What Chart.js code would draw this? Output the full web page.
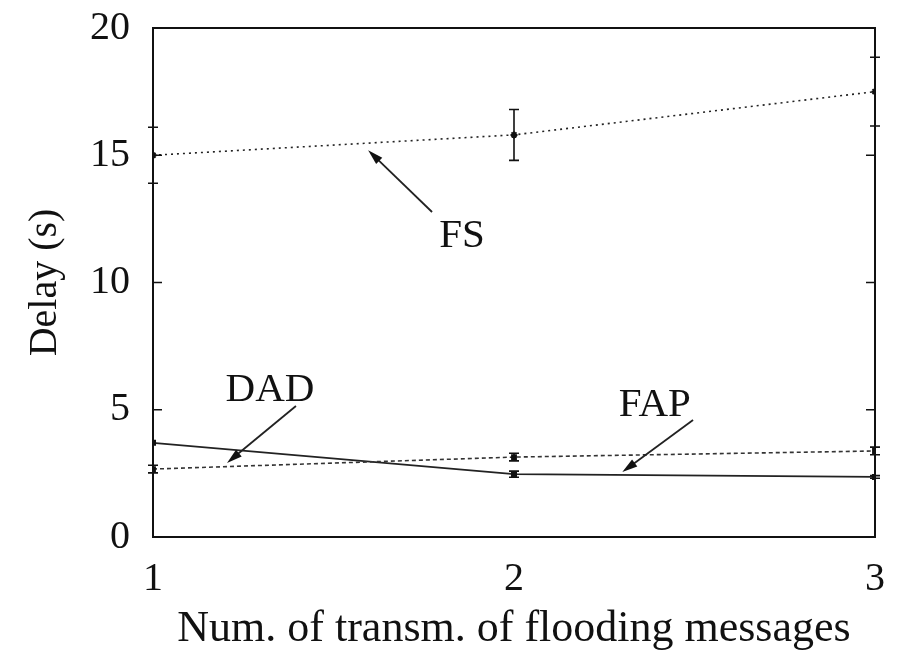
<!DOCTYPE html>
<html>
<head>
<meta charset="utf-8">
<script src="https://cdn.jsdelivr.net/npm/chart.js@4.4.1/dist/chart.umd.min.js"></script>
<style>
  html, body { margin: 0; padding: 0; background: #fff; }
  #wrap { width: 898px; height: 658px; }
</style>
</head>
<body>
<div id="wrap"><canvas id="c" width="898" height="658"></canvas></div>
<script>
// ---- data ----
const xValues = [1, 2, 3];
const fsDelay = [15.0, 15.8, 17.5];
const fsErr = [1.1, 1.0, 1.35];
const dadDelay = [2.67, 3.14, 3.38];
const dadErr = [0.15, 0.15, 0.15];
const fapDelay = [3.7, 2.47, 2.36];
const fapErr = [0.0, 0.12, 0.05];
const yTicks = [0, 5, 10, 15, 20];
const xTicks = [1, 2, 3];
const xTitle = 'Num. of transm. of flooding messages';
const yTitle = 'Delay (s)';
// annotation labels (data coordinates): label, label pos, arrow start, arrow tip
const noteLabels = ['FS', 'DAD', 'FAP'];
const noteLabelPos = [[1.856, 11.83], [1.324, 5.78], [2.39, 5.19]];
const noteArrowFrom = [[1.773, 12.77], [1.396, 5.15], [2.496, 4.6]];
const noteArrowTo = [[1.596, 15.2], [1.205, 2.91], [2.30, 2.55]];

const FONT = '"Liberation Serif", "DejaVu Serif", serif';

function pts(ys) { return xValues.map((x, i) => ({ x: x, y: ys[i] })); }

const errorBarPlugin = {
  id: 'errbars',
  afterDatasetsDraw(chart) {
    const ctx = chart.ctx, xs = chart.scales.x, ys = chart.scales.y;
    const sets = [[fsDelay, fsErr], [dadDelay, dadErr], [fapDelay, fapErr]];
    ctx.save();
    ctx.strokeStyle = '#111';
    ctx.lineWidth = 1.6;
    sets.forEach(([vals, errs]) => {
      vals.forEach((v, i) => {
        if (!errs[i]) return;
        const px = xs.getPixelForValue(xValues[i]);
        const y1 = ys.getPixelForValue(v - errs[i]);
        const y2 = ys.getPixelForValue(v + errs[i]);
        ctx.beginPath();
        ctx.moveTo(px, y1); ctx.lineTo(px, y2);
        ctx.moveTo(px - 5, y1); ctx.lineTo(px + 5, y1);
        ctx.moveTo(px - 5, y2); ctx.lineTo(px + 5, y2);
        ctx.stroke();
      });
    });
    ctx.restore();
  }
};

const framePlugin = {
  id: 'frame',
  afterDraw(chart) {
    const ctx = chart.ctx, a = chart.chartArea;
    const xs = chart.scales.x, ys = chart.scales.y;
    ctx.save();
    ctx.strokeStyle = '#111';
    ctx.lineWidth = 2;
    ctx.strokeRect(a.left, a.top, a.right - a.left, a.bottom - a.top);
    ctx.lineWidth = 1.6;
    ctx.beginPath();
    yTicks.forEach(v => {
      const py = ys.getPixelForValue(v);
      ctx.moveTo(a.left, py); ctx.lineTo(a.left + 9, py);
      ctx.moveTo(a.right, py); ctx.lineTo(a.right - 9, py);
    });
    ctx.stroke();
    // annotations
    ctx.fillStyle = '#111';
    ctx.font = '41px ' + FONT;
    ctx.textAlign = 'center';
    ctx.textBaseline = 'middle';
    noteLabels.forEach((t, i) => {
      const lx = xs.getPixelForValue(noteLabelPos[i][0]);
      const ly = ys.getPixelForValue(noteLabelPos[i][1]);
      ctx.fillText(t, lx, ly);
      const x1 = xs.getPixelForValue(noteArrowFrom[i][0]);
      const y1 = ys.getPixelForValue(noteArrowFrom[i][1]);
      const x2 = xs.getPixelForValue(noteArrowTo[i][0]);
      const y2 = ys.getPixelForValue(noteArrowTo[i][1]);
      const ang = Math.atan2(y2 - y1, x2 - x1);
      const hl = 16, hw = 0.28;
      ctx.strokeStyle = '#222';
      ctx.lineWidth = 1.8;
      ctx.beginPath();
      ctx.moveTo(x1, y1);
      ctx.lineTo(x2 - Math.cos(ang) * hl * 0.8, y2 - Math.sin(ang) * hl * 0.8);
      ctx.stroke();
      ctx.beginPath();
      ctx.moveTo(x2, y2);
      ctx.lineTo(x2 - hl * Math.cos(ang - hw), y2 - hl * Math.sin(ang - hw));
      ctx.lineTo(x2 - hl * Math.cos(ang + hw), y2 - hl * Math.sin(ang + hw));
      ctx.closePath();
      ctx.fill();
    });
    ctx.restore();
  }
};

new Chart(document.getElementById('c'), {
  type: 'line',
  data: {
    datasets: [
      { label: 'FS', data: pts(fsDelay), borderColor: '#222', borderWidth: 1.6,
        borderDash: [2, 4], pointRadius: 3.5, pointStyle: 'star', pointBorderColor: '#111',
        pointBackgroundColor: '#111', pointBorderWidth: 2, fill: false, tension: 0 },
      { label: 'DAD', data: pts(dadDelay), borderColor: '#333', borderWidth: 1.6,
        borderDash: [4, 3], pointRadius: 3, pointStyle: 'rect', pointBorderColor: '#111',
        pointBackgroundColor: '#111', fill: false, tension: 0 },
      { label: 'FAP', data: pts(fapDelay), borderColor: '#222', borderWidth: 1.8,
        pointRadius: 3, pointStyle: 'rect', pointBorderColor: '#111',
        pointBackgroundColor: '#111', fill: false, tension: 0 }
    ]
  },
  options: {
    responsive: false,
    animation: false,
    devicePixelRatio: 1,
    layout: { padding: { top: 28, right: 23, bottom: 0, left: 0 } },
    plugins: { legend: { display: false }, tooltip: { enabled: false } },
    scales: {
      x: {
        type: 'linear', min: 1, max: 3,
        afterFit(s) { s.height = 121; s.paddingLeft = 0; s.paddingRight = 0; },
        afterBuildTicks(s) { s.ticks = xTicks.map(v => ({ value: v })); },
        grid: { display: false }, border: { display: false },
        ticks: { color: '#111', padding: 10, font: { family: FONT, size: 40 },
                 callback: v => String(v), maxRotation: 0 },
        title: { display: true, text: xTitle, color: '#111',
                 font: { family: FONT, size: 44 }, padding: { top: 0, bottom: 2 } }
      },
      y: {
        type: 'linear', min: 0, max: 20,
        afterFit(s) { s.width = 153; s.paddingTop = 0; s.paddingBottom = 0; },
        afterBuildTicks(s) { s.ticks = yTicks.map(v => ({ value: v })); },
        grid: { display: false }, border: { display: false },
        ticks: { color: '#111', padding: 15, font: { family: FONT, size: 40 },
                 callback: v => String(v) },
        title: { display: true, text: yTitle, color: '#111',
                 font: { family: FONT, size: 40 }, padding: { top: 21, bottom: 0 } }
      }
    }
  },
  plugins: [errorBarPlugin, framePlugin]
});
</script>
</body>
</html>
